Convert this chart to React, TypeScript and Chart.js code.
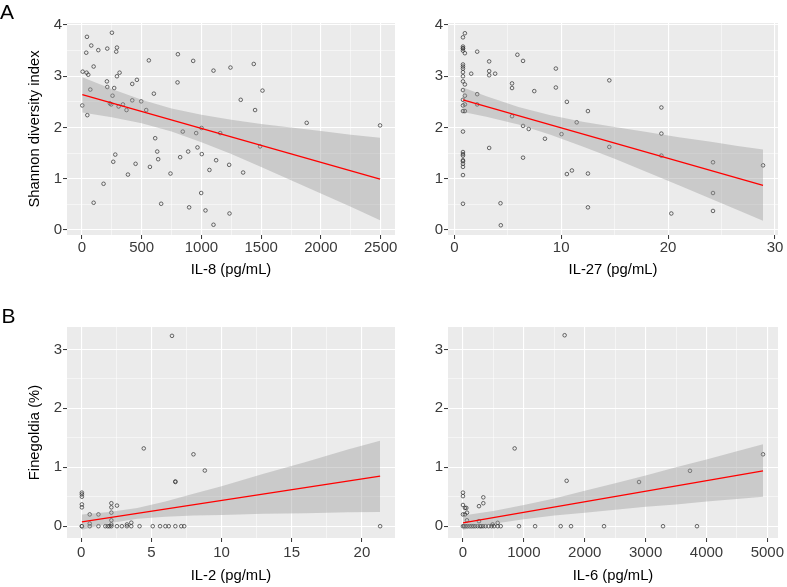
import React, { useEffect, useRef } from 'react';
import { Chart, registerables } from 'chart.js';

Chart.register(...registerables);

const FONT = "'Liberation Sans', Arial, Helvetica, sans-serif";

// ---------- Panel A (left): IL-8 vs Shannon diversity ----------
const il8X = [3, 6, 42, 36, 39, 53, 45, 70, 78, 98, 98, 137, 181, 209, 212, 212, 234, 245, 251, 256, 262, 270, 279, 287, 293, 293, 307, 315, 343, 373, 385, 421, 421, 449, 460, 496, 538, 560, 569, 602, 613, 630, 638, 663, 741, 800, 803, 822, 844, 889, 897, 931, 956, 967, 1001, 998, 1003, 1034, 1101, 1101, 1123, 1067, 1157, 1232, 1235, 1243, 1329, 1349, 1438, 1449, 1491, 1511, 1881, 2495];
const il8Shannon = [2.43, 3.09, 3.77, 3.46, 3.07, 3.03, 2.24, 2.74, 3.6, 3.19, 0.53, 3.51, 0.9, 2.9, 3.54, 2.79, 2.47, 2.45, 3.85, 2.62, 1.33, 2.77, 1.47, 3.48, 3.56, 3.0, 2.41, 3.07, 2.45, 2.34, 1.08, 2.85, 2.53, 1.29, 2.93, 2.51, 2.34, 3.31, 1.23, 2.66, 1.79, 1.53, 1.38, 0.51, 1.1, 2.88, 3.43, 1.42, 1.92, 1.53, 0.44, 3.3, 1.89, 1.61, 1.99, 0.72, 1.48, 0.38, 3.11, 0.1, 1.36, 1.17, 1.89, 1.27, 0.32, 3.17, 2.54, 1.12, 3.24, 2.34, 1.63, 2.72, 2.09, 2.04];
const il8FitX = [3, 2495];
const il8FitY = [2.64, 0.99];
const il8BandX = [3, 250, 500, 750, 1000, 1250, 1500, 1750, 2000, 2250, 2495];
const il8BandLow = [2.29, 2.2, 2.08, 1.92, 1.71, 1.48, 1.23, 0.97, 0.71, 0.45, 0.19];
const il8BandHigh = [2.98, 2.75, 2.54, 2.37, 2.25, 2.15, 2.07, 2.0, 1.93, 1.86, 1.8];

// ---------- Panel A (right): IL-27 vs Shannon diversity ----------
const il27X = [
  0.81, 0.81, 0.81, 0.81, 0.81, 0.81, 0.81, 0.81, 0.81, 0.81, 0.81, 0.81, 0.81, 0.81, 0.81, 0.81, 0.81, 0.81, 0.81, 0.81, 0.81, 0.81, 0.81, 0.81, 0.81,
  0.99, 0.99, 0.99, 0.99, 0.99, 0.99,
  1.58, 2.14, 2.14, 2.14, 3.26, 3.26, 3.26, 3.82, 3.26, 4.32, 4.35, 5.4, 5.4, 5.4, 5.9, 6.43, 6.43, 6.43, 6.96, 7.48, 8.48, 9.5, 9.5, 10.03, 10.53, 10.53, 11.0, 11.45,
  12.5, 12.5, 12.5, 14.5, 14.5, 19.37, 19.37, 19.37, 20.3, 24.2, 24.2, 24.2, 28.88,
];
const il27Shannon = [
  3.76, 3.58, 3.55, 3.54, 3.5, 3.23, 3.19, 3.15, 3.08, 3.0, 2.9, 2.73, 2.54, 2.43, 2.32, 1.92, 1.52, 1.48, 1.45, 1.36, 1.34, 1.29, 1.23, 1.07, 0.51,
  3.84, 3.45, 2.84, 2.62, 2.45, 2.32,
  3.05, 3.48, 2.65, 2.45, 3.29, 3.1, 3.02, 3.05, 1.6, 0.52, 0.09, 2.86, 2.77, 2.22, 3.42, 3.3, 2.03, 1.41, 1.97, 2.71, 1.78, 3.15, 2.78, 1.87, 2.5, 1.09, 1.16, 2.1,
  2.32, 1.1, 0.44, 2.92, 1.62, 2.39, 1.88, 1.45, 0.32, 1.32, 0.72, 0.37, 1.26,
];
const il27FitX = [0.81, 28.88];
const il27FitY = [2.54, 0.87];
const il27BandX = [0.81, 3, 6, 9, 12, 15, 18, 21, 24, 26.5, 28.88];
const il27BandLow = [2.3, 2.21, 2.06, 1.86, 1.63, 1.39, 1.13, 0.87, 0.61, 0.39, 0.18];
const il27BandHigh = [2.78, 2.61, 2.4, 2.24, 2.11, 2.01, 1.91, 1.81, 1.72, 1.64, 1.57];

// ---------- Panel B (left): IL-2 vs Finegoldia ----------
const il2X = [
  0.05, 0.05, 0.05, 0.05, 0.05, 0.05, 0.05,
  0.61, 0.61, 0.61, 1.23, 1.23, 1.72, 1.89, 2.01,
  2.15, 2.15, 2.15, 2.15, 2.15, 2.15, 2.55, 2.55, 2.9, 3.26, 3.26, 3.57, 3.57, 4.16, 4.46,
  5.1, 5.62, 6.0, 6.24, 6.47, 6.71, 6.71, 6.71, 7.13, 7.34, 8.0, 8.81, 21.3,
];
const il2Finegoldia = [
  0.57, 0.54, 0.5, 0.37, 0.32, 0, 0,
  0.2, 0.045, 0, 0.2, 0, 0, 0, 0,
  0.39, 0.32, 0.23, 0.1, 0.03, 0, 0.35, 0, 0, 0.03, 0, 0.06, 0, 0, 1.32,
  0, 0, 0, 0, 3.23, 0.76, 0.75, 0, 0, 0, 1.22, 0.945, 0,
];
const il2FitX = [0.05, 21.3];
const il2FitY = [0.074, 0.85];
const il2BandX = [0.05, 2, 4, 6, 8, 10, 13, 16, 19, 21.3];
const il2BandLow = [-0.06, 0.05, 0.125, 0.16, 0.18, 0.19, 0.21, 0.22, 0.235, 0.24];
const il2BandHigh = [0.2, 0.24, 0.31, 0.42, 0.55, 0.68, 0.89, 1.09, 1.3, 1.45];

// ---------- Panel B (right): IL-6 vs Finegoldia ----------
const il6X = [
  0, 0, 0, 33, 55, 0, 33, 66, 263, 334, 334, 66, 263, 487, 570,
  0, 20, 45, 75, 110, 140, 170, 200, 240, 280, 300, 330, 370, 420, 470, 510, 570, 620, 920, 1185, 1605, 1775, 2317, 3286, 3844,
  849, 1670, 1703, 2892, 3729, 4929,
];
const il6Finegoldia = [
  0.57, 0.51, 0.36, 0.31, 0.31, 0.2, 0.2, 0.23, 0.34, 0.49, 0.39, 0.1, 0.085, 0.03, 0.057,
  0, 0, 0, 0, 0, 0, 0, 0, 0, 0, 0, 0, 0, 0, 0, 0, 0, 0, 0, 0, 0, 0, 0, 0, 0,
  1.32, 3.24, 0.77, 0.75, 0.94, 1.22,
];
const il6FitX = [0, 4929];
const il6FitY = [0.057, 0.94];
const il6BandX = [0, 500, 1000, 1500, 2000, 2500, 3000, 3500, 4000, 4500, 4929];
const il6BandLow = [-0.06, 0.04, 0.12, 0.18, 0.23, 0.28, 0.33, 0.37, 0.42, 0.46, 0.5];
const il6BandHigh = [0.18, 0.26, 0.36, 0.47, 0.6, 0.73, 0.86, 1.0, 1.13, 1.27, 1.39];

// ---------- Axis ticks ----------
const il8Ticks = [0, 500, 1000, 1500, 2000, 2500];
const il8Minor = [250, 750, 1250, 1750, 2250];
const il27Ticks = [0, 10, 20, 30];
const il27Minor = [5, 15, 25];
const il2Ticks = [0, 5, 10, 15, 20];
const il2Minor = [2.5, 7.5, 12.5, 17.5];
const il6Ticks = [0, 1000, 2000, 3000, 4000, 5000];
const il6Minor = [500, 1500, 2500, 3500, 4500];
const shannonTicks = [0, 1, 2, 3, 4];
const shannonMinor = [0.5, 1.5, 2.5, 3.5];
const fineTicks = [0, 1, 2, 3];
const fineMinor = [0.5, 1.5, 2.5];

type PanelCfg = {
  id: string;
  left: number; top: number; width: number; height: number;
  yW: number; padR: number; padT: number; xH: number;
  tickPad: number; xTitlePadB: number;
  xMin: number; xMax: number; yMin: number; yMax: number;
  xMajor: number[]; xMinor: number[]; yMajor: number[]; yMinor: number[];
  xTitle: string; yTitle?: string;
  px: number[]; py: number[];
  fitX: number[]; fitY: number[];
  bandX: number[]; bandLow: number[]; bandHigh: number[];
};

const panels: PanelCfg[] = [
  {
    id: 'a1', left: 0, top: 0, width: 400, height: 290,
    yW: 67, padR: 5, padT: 23, xH: 55, tickPad: 1, xTitlePadB: 11,
    xMin: -125, xMax: 2620, yMin: -0.1, yMax: 4.04,
    xMajor: il8Ticks, xMinor: il8Minor, yMajor: shannonTicks, yMinor: shannonMinor,
    xTitle: 'IL-8 (pg/mL)', yTitle: 'Shannon diversity index',
    px: il8X, py: il8Shannon, fitX: il8FitX, fitY: il8FitY,
    bandX: il8BandX, bandLow: il8BandLow, bandHigh: il8BandHigh,
  },
  {
    id: 'a2', left: 400, top: 0, width: 387, height: 290,
    yW: 48, padR: 9, padT: 23, xH: 55, tickPad: 1, xTitlePadB: 11,
    xMin: -0.59, xMax: 30.28, yMin: -0.1, yMax: 4.04,
    xMajor: il27Ticks, xMinor: il27Minor, yMajor: shannonTicks, yMinor: shannonMinor,
    xTitle: 'IL-27 (pg/mL)',
    px: il27X, py: il27Shannon, fitX: il27FitX, fitY: il27FitY,
    bandX: il27BandX, bandLow: il27BandLow, bandHigh: il27BandHigh,
  },
  {
    id: 'b1', left: 0, top: 290, width: 400, height: 297,
    yW: 67, padR: 5, padT: 37, xH: 49, tickPad: 3, xTitlePadB: 2,
    xMin: -1.01, xMax: 22.36, yMin: -0.2, yMax: 3.38,
    xMajor: il2Ticks, xMinor: il2Minor, yMajor: fineTicks, yMinor: fineMinor,
    xTitle: 'IL-2 (pg/mL)', yTitle: 'Finegoldia (%)',
    px: il2X, py: il2Finegoldia, fitX: il2FitX, fitY: il2FitY,
    bandX: il2BandX, bandLow: il2BandLow, bandHigh: il2BandHigh,
  },
  {
    id: 'b2', left: 400, top: 290, width: 387, height: 297,
    yW: 48, padR: 9, padT: 37, xH: 49, tickPad: 3, xTitlePadB: 2,
    xMin: -246, xMax: 5175, yMin: -0.2, yMax: 3.38,
    xMajor: il6Ticks, xMinor: il6Minor, yMajor: fineTicks, yMinor: fineMinor,
    xTitle: 'IL-6 (pg/mL)',
    px: il6X, py: il6Finegoldia, fitX: il6FitX, fitY: il6FitY,
    bandX: il6BandX, bandLow: il6BandLow, bandHigh: il6BandHigh,
  },
];

const panelBg = {
  id: 'panelBg',
  beforeDraw(chart: any) {
    const { ctx, chartArea: a } = chart;
    ctx.save();
    ctx.fillStyle = '#EBEBEB';
    ctx.fillRect(a.left, a.top, a.right - a.left, a.bottom - a.top);
    ctx.restore();
  },
};

function Panel({ cfg }: { cfg: PanelCfg }) {
  const ref = useRef<HTMLCanvasElement>(null);
  useEffect(() => {
    const c = cfg;
    const allX = [...c.xMajor, ...c.xMinor].sort((a, b) => a - b);
    const allY = [...c.yMajor, ...c.yMinor].sort((a, b) => a - b);
    const majX = (v: any) => c.xMajor.includes(v);
    const majY = (v: any) => c.yMajor.includes(v);
    const tickFont = { family: FONT, size: 15 };
    const titleFont = { family: FONT, size: 14.8 };

    const chart = new Chart(ref.current as HTMLCanvasElement, {
      type: 'scatter',
      data: {
        datasets: [
          {
            type: 'scatter',
            data: c.px.map((x, i) => ({ x, y: c.py[i] })),
            pointRadius: 1.8,
            pointBorderWidth: 0.8,
            pointBorderColor: 'rgba(50,50,50,0.9)',
            pointBackgroundColor: 'rgba(0,0,0,0)',
            order: 3,
          } as any,
          {
            type: 'line',
            data: c.bandX.map((x, i) => ({ x, y: c.bandLow[i] })),
            borderWidth: 0,
            borderColor: 'rgba(0,0,0,0)',
            pointRadius: 0,
            fill: false,
            order: 2,
          } as any,
          {
            type: 'line',
            data: c.bandX.map((x, i) => ({ x, y: c.bandHigh[i] })),
            borderWidth: 0,
            borderColor: 'rgba(0,0,0,0)',
            backgroundColor: 'rgba(153,153,153,0.4)',
            pointRadius: 0,
            fill: '-1',
            order: 2,
          } as any,
          {
            type: 'line',
            data: c.fitX.map((x, i) => ({ x, y: c.fitY[i] })),
            borderWidth: 1.3,
            borderColor: '#FF0000',
            pointRadius: 0,
            fill: false,
            order: 1,
          } as any,
        ],
      },
      plugins: [panelBg],
      options: {
        animation: false,
        responsive: false,
        devicePixelRatio: 1,
        events: [],
        layout: { padding: { left: 0, right: c.padR, top: c.padT, bottom: 0 } },
        plugins: { legend: { display: false }, tooltip: { enabled: false } },
        scales: {
          x: {
            type: 'linear',
            min: c.xMin,
            max: c.xMax,
            bounds: 'data',
            afterBuildTicks: (s: any) => { s.ticks = allX.map((v) => ({ value: v })); },
            afterFit: (s: any) => { s.height = c.xH; },
            border: { display: false },
            grid: {
              color: '#FFFFFF',
              lineWidth: (ctx: any) => (ctx.tick && majX(ctx.tick.value) ? 1.1 : 0.5),
              tickColor: (ctx: any) => (ctx.tick && majX(ctx.tick.value) ? '#333333' : 'rgba(0,0,0,0)'),
              tickLength: 4,
              tickWidth: 1,
            },
            ticks: {
              autoSkip: false,
              maxRotation: 0,
              padding: c.tickPad - 1,
              color: '#3A3A3A',
              font: tickFont,
              callback: (v: any) => (majX(v) ? String(v) : ''),
            },
            title: {
              display: true,
              text: c.xTitle,
              color: '#000000',
              font: titleFont,
              padding: { top: 0, bottom: c.xTitlePadB },
            },
          },
          y: {
            type: 'linear',
            min: c.yMin,
            max: c.yMax,
            bounds: 'data',
            afterBuildTicks: (s: any) => { s.ticks = allY.map((v) => ({ value: v })); },
            afterFit: (s: any) => { s.width = c.yW; },
            border: { display: false },
            grid: {
              color: '#FFFFFF',
              lineWidth: (ctx: any) => (ctx.tick && majY(ctx.tick.value) ? 1.1 : 0.5),
              tickColor: (ctx: any) => (ctx.tick && majY(ctx.tick.value) ? '#333333' : 'rgba(0,0,0,0)'),
              tickLength: 4,
              tickWidth: 1,
            },
            ticks: {
              autoSkip: false,
              padding: 1,
              color: '#3A3A3A',
              font: tickFont,
              callback: (v: any) => (majY(v) ? String(v) : ''),
            },
            title: {
              display: !!c.yTitle,
              text: c.yTitle || '',
              color: '#000000',
              font: titleFont,
              padding: { top: 26, bottom: 0 },
            },
          },
        },
      } as any,
    });
    return () => chart.destroy();
  }, [cfg]);

  return (
    <canvas
      ref={ref}
      width={cfg.width}
      height={cfg.height}
      style={{ position: 'absolute', left: cfg.left, top: cfg.top, width: cfg.width, height: cfg.height, display: 'block' }}
    />
  );
}

export default function App() {
  return (
    <div style={{ position: 'fixed', left: 0, top: 0, width: 787, height: 587, background: '#FFFFFF', overflow: 'hidden' }}>
      {panels.map((p) => (
        <Panel key={p.id} cfg={p} />
      ))}
      <div style={{ position: 'absolute', left: 0, top: 0.5, fontFamily: FONT, fontSize: 21, lineHeight: '21px', color: '#000' }}>A</div>
      <div style={{ position: 'absolute', left: 1.5, top: 305, fontFamily: FONT, fontSize: 21, lineHeight: '21px', color: '#000' }}>B</div>
    </div>
  );
}
